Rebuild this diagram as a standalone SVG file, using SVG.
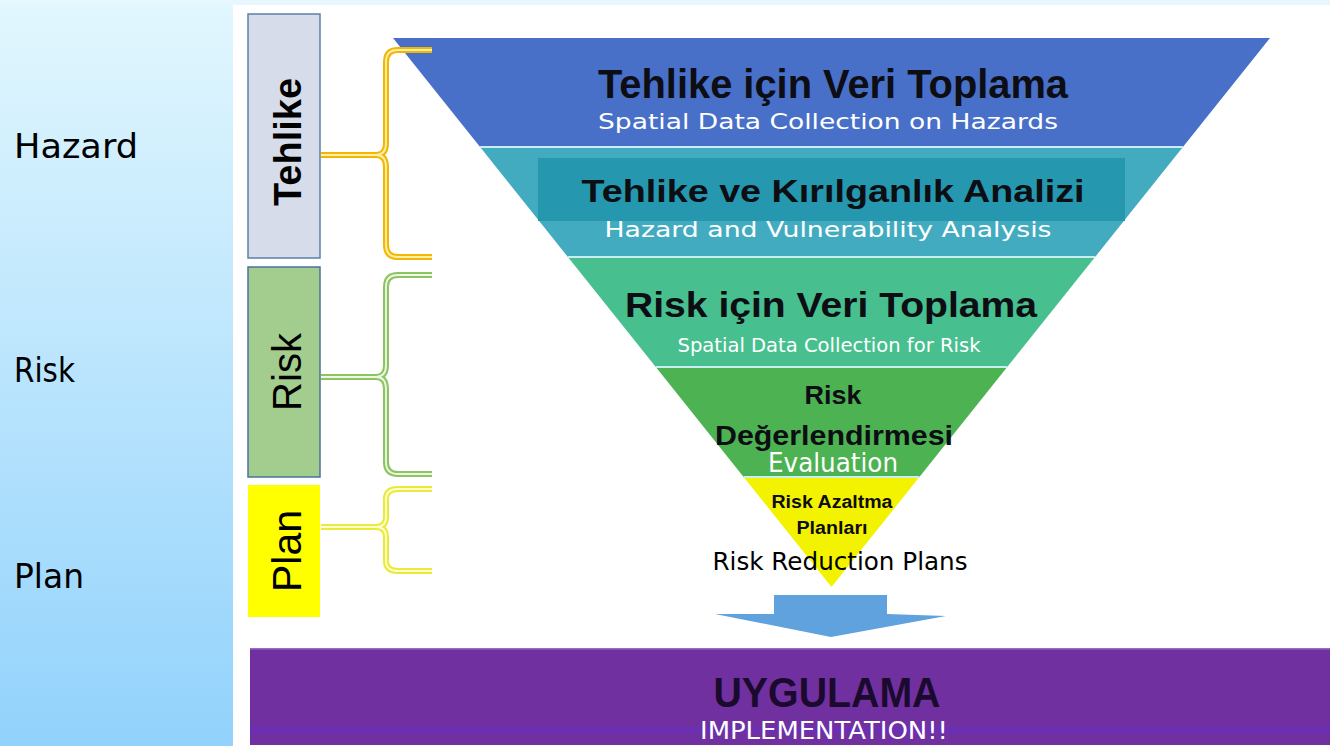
<svg xmlns="http://www.w3.org/2000/svg" width="1330" height="746" viewBox="0 0 1330 746">
  <defs>
    <linearGradient id="bg" x1="0" y1="0" x2="0" y2="1">
      <stop offset="0" stop-color="#e2f7fe"/>
      <stop offset="1" stop-color="#92d2fc"/>
    </linearGradient>
    <style>
      .side { font-family: "DejaVu Sans", "Liberation Sans", sans-serif; font-size: 33px; fill: #000; }
      .ttl { font-family: "Liberation Sans", Arial, sans-serif; font-weight: bold; fill: #0d0d14; text-anchor: middle; }
      .sub { font-family: "DejaVu Sans", "Liberation Sans", sans-serif; fill: #ffffff; text-anchor: middle; }
      .vlab { font-family: "Liberation Sans", Arial, sans-serif; fill: #000; text-anchor: middle; }
      .sep { stroke: #c9eef2; stroke-width: 2; fill: none; }
      .outer { fill: none; stroke-width: 6; stroke-linecap: butt; stroke-linejoin: round; }
      .inner { fill: none; stroke-width: 1.8; stroke-linecap: butt; stroke-linejoin: round; }
    </style>
  </defs>

  <!-- background -->
  <rect x="0" y="0" width="1330" height="746" fill="url(#bg)"/>
  <rect x="0" y="0" width="1330" height="5" fill="#e6f8fe"/>
  <rect x="233" y="5" width="1097" height="741" fill="#ffffff"/>

  <!-- left labels -->
  <g id="label-hazard"><text class="side" x="14" y="158" textLength="124" lengthAdjust="spacingAndGlyphs">Hazard</text></g>
  <g id="label-risk"><text class="side" x="14" y="382" textLength="61" lengthAdjust="spacingAndGlyphs">Risk</text></g>
  <g id="label-plan"><text class="side" x="14" y="588" textLength="70" lengthAdjust="spacingAndGlyphs">Plan</text></g>

  <!-- side boxes -->
  <g id="box-tehlike">
    <rect x="248" y="14" width="72" height="244" fill="#d6dce9" stroke="#5b80aa" stroke-width="1.5"/>
    <text class="vlab" font-weight="bold" font-size="38" transform="translate(301,142) rotate(-90)">Tehlike</text>
  </g>
  <g id="box-risk">
    <rect x="248" y="267" width="72" height="210" fill="#a3cc8f" stroke="#4a739e" stroke-width="1.5"/>
    <text class="vlab" font-size="40" transform="translate(301,372) rotate(-90)">Risk</text>
  </g>
  <g id="box-plan">
    <rect x="248" y="485" width="72" height="132" fill="#ffff00"/>
    <text class="vlab" font-size="41" transform="translate(301,551) rotate(-90)">Plan</text>
  </g>

  <!-- funnel -->
  <g id="band-1">
    <polygon points="393,38 1270,38 1182.9,147 480.1,147" fill="#4870c8"/>
    <text class="ttl" x="833" y="98" font-size="40" textLength="470" lengthAdjust="spacingAndGlyphs">Tehlike için Veri Toplama</text>
    <text class="sub" x="828" y="129" font-size="22" textLength="460" lengthAdjust="spacingAndGlyphs">Spatial Data Collection on Hazards</text>
  </g>
  <g id="band-2">
    <polygon points="480.1,147 1182.9,147 1095.1,257 567.9,257" fill="#43abc0"/>
    <rect x="538" y="158" width="587" height="63" fill="#2597ae"/>
    <text class="ttl" x="833" y="202" font-size="32" textLength="503" lengthAdjust="spacingAndGlyphs">Tehlike ve Kırılganlık Analizi</text>
    <text class="sub" x="828" y="237" font-size="22" textLength="447" lengthAdjust="spacingAndGlyphs">Hazard and Vulnerability Analysis</text>
  </g>
  <g id="band-3">
    <polygon points="567.9,257 1095.1,257 1007.2,367 655.8,367" fill="#47bf8f"/>
    <text class="ttl" x="831" y="317" font-size="35" textLength="412" lengthAdjust="spacingAndGlyphs">Risk için Veri Toplama</text>
    <text class="sub" x="829" y="352" font-size="19" textLength="303" lengthAdjust="spacingAndGlyphs">Spatial Data Collection for Risk</text>
  </g>
  <g id="band-4">
    <polygon points="655.8,367 1007.2,367 919.4,477 743.6,477" fill="#4db352"/>
    <text class="ttl" x="833" y="404" font-size="26" textLength="57" lengthAdjust="spacingAndGlyphs">Risk</text>
    <text class="ttl" x="834" y="445" font-size="27" textLength="238" lengthAdjust="spacingAndGlyphs">Değerlendirmesi</text>
  </g>
  <g id="band-5">
    <polygon points="743.6,477 919.4,477 831.5,587" fill="#f3f300"/>
    <text class="ttl" x="832" y="508" font-size="18" textLength="121" lengthAdjust="spacingAndGlyphs">Risk Azaltma</text>
    <text class="ttl" x="832" y="534" font-size="18" textLength="71" lengthAdjust="spacingAndGlyphs">Planları</text>
  </g>
  <g id="funnel-separators">
    <line class="sep" x1="480.1" y1="147" x2="1182.9" y2="147"/>
    <line class="sep" x1="567.9" y1="257" x2="1095.1" y2="257"/>
    <line class="sep" x1="655.8" y1="367" x2="1007.2" y2="367"/>
    <line class="sep" x1="743.6" y1="477" x2="919.4" y2="477"/>
  </g>
  <text class="sub" x="833" y="472" font-size="26" textLength="130" lengthAdjust="spacingAndGlyphs">Evaluation</text>
  <text class="sub" x="840" y="570" font-size="24" textLength="255" lengthAdjust="spacingAndGlyphs" style="fill:#000">Risk Reduction Plans</text>

  <!-- implementation bar -->
  <g id="implementation">
    <rect x="250" y="648" width="1080" height="97" fill="#7130a0"/>
    <rect x="250" y="648" width="1080" height="1.5" fill="#9a6cc0"/>
    <rect x="250" y="727" width="1080" height="6" fill="#6a2fb5"/>
    <text class="ttl" x="827" y="707" font-size="42" textLength="227" lengthAdjust="spacingAndGlyphs" style="fill:#1a0a2e">UYGULAMA</text>
    <text class="sub" x="824" y="739" font-size="25" textLength="248" lengthAdjust="spacingAndGlyphs">IMPLEMENTATION!!</text>
  </g>

  <!-- connectors -->
  <g id="connectors">
    <g id="brace-tehlike">
      <path class="outer" stroke="#f2b705" d="M432,50 H398 Q386,50 386,62 V143 Q386,155 376,155 Q386,155 386,167 V245 Q386,257 398,257 H432 M321,155 H378"/>
      <path class="inner" stroke="#fff0a8" d="M432,50 H398 Q386,50 386,62 V143 Q386,155 376,155 Q386,155 386,167 V245 Q386,257 398,257 H432 M321,155 H378"/>
    </g>
    <g id="brace-risk">
      <path class="outer" stroke="#8cc462" d="M432,275 H398 Q386,275 386,287 V365 Q386,377 376,377 Q386,377 386,389 V462 Q386,474 398,474 H432 M321,377 H378"/>
      <path class="inner" stroke="#eef7e4" d="M432,275 H398 Q386,275 386,287 V365 Q386,377 376,377 Q386,377 386,389 V462 Q386,474 398,474 H432 M321,377 H378"/>
    </g>
    <g id="brace-plan">
      <path class="outer" stroke="#e9ea3a" d="M432,489 H398 Q386,489 386,499 V517 Q386,527 376,527 Q386,527 386,537 V561 Q386,571 398,571 H432 M321,527 H378"/>
      <path class="inner" stroke="#ffffd0" d="M432,489 H398 Q386,489 386,499 V517 Q386,527 376,527 Q386,527 386,537 V561 Q386,571 398,571 H432 M321,527 H378"/>
    </g>
    <polygon id="arrow-down" points="774,595 887,595 887,614 946,616 831,637 715,614 774,614" fill="#5fa2de"/>
  </g>
</svg>
